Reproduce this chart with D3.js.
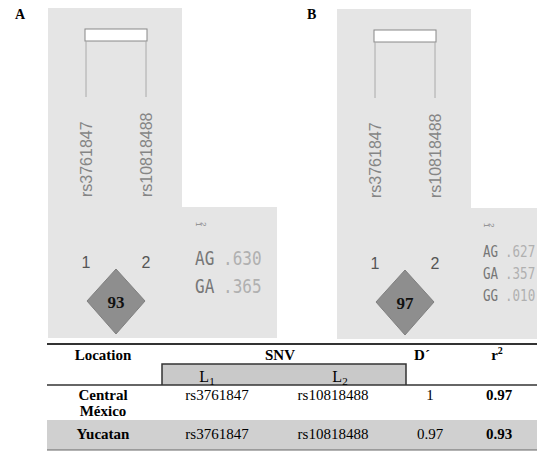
<!DOCTYPE html>
<html>
<head>
<meta charset="utf-8">
<script src="https://cdn.jsdelivr.net/npm/d3@7"></script>
<style>
  body { margin: 0; background: #fff; }
  svg { display: block; }
</style>
</head>
<body>
<svg id="chart" width="537" height="451"></svg>
<script>
// data
const panels = ['A', 'B']
const snps = ['rs3761847', 'rs10818488']
const markerNums = ['1', '2']
const ldValues = [93, 97]
const hapsA = ['AG', 'GA']
const freqsA = ['.630', '.365']
const hapsB = ['AG', 'GA', 'GG']
const freqsB = ['.627', '.357', '.010']

const tableHead = ['Location', 'SNV', 'D´', 'r']
const locations = [['Central', 'México'], ['Yucatan']]
const l1 = ['rs3761847', 'rs3761847']
const l2 = ['rs10818488', 'rs10818488']
const dPrime = ['1', '0.97']
const r2 = ['0.97', '0.93']

const svg = d3.select('#chart')

const panelCfg = [
  { ox: 48, oy: 8, hx: 147, fx: 175, hy: 257, hstep: 28, hfs: 20, sx: 0.8 },
  { ox: 337, oy: 9, hx: 146, fx: 168, hy: 248, hstep: 22, hfs: 16.5, sx: 0.76 }
]
const hapSets = [hapsA, hapsB]
const freqSets = [freqsA, freqsB]
const labelX = [15, 307]

panelCfg.forEach((p, i) => {
  svg.append('text').attr('x', labelX[i]).attr('y', 19)
    .attr('font-family', 'Liberation Serif').attr('font-weight', 'bold').attr('font-size', '14px')
    .text(panels[i])

  const g = svg.append('g').attr('transform', `translate(${p.ox}, ${p.oy})`)

  // L-shaped background
  g.append('path')
    .attr('d', 'M0,0 H134 V199 H' + (i === 0 ? 229 : 210) + ' V330 H0 Z')
    .attr('fill', '#e5e5e5')

  const x = d3.scalePoint().domain(snps).range([38, 98])

  g.append('rect').attr('x', x(snps[0]) - 1).attr('y', 21).attr('width', x(snps[1]) - x(snps[0]) + 2).attr('height', 12)
    .attr('fill', '#fff').attr('stroke', '#888').attr('stroke-width', 1)

  g.selectAll('.tick-line').data(snps).enter().append('line')
    .attr('x1', (d) => x(d)).attr('x2', (d) => x(d))
    .attr('y1', 33).attr('y2', 89)
    .attr('stroke', '#aaa')

  g.selectAll('.snp').data(snps).enter().append('text')
    .attr('transform', (d) => `translate(${x(d) + 6}, 189) rotate(-90)`)
    .attr('font-family', 'Liberation Sans, Arial').attr('font-size', '16px').attr('fill', '#858585')
    .text((d) => d)

  g.selectAll('.num').data(markerNums).enter().append('text')
    .attr('x', (d, j) => x(snps[j])).attr('y', 260)
    .attr('text-anchor', 'middle')
    .attr('font-family', 'Liberation Sans, Arial').attr('font-size', '16px').attr('fill', '#555')
    .text((d) => d)

  const cx = (x(snps[0]) + x(snps[1])) / 2
  const hw = (x(snps[1]) - x(snps[0])) / 2 - 1
  const top = 261
  g.append('path')
    .attr('d', `M${cx},${top} L${cx + hw},${top + 32} L${cx},${top + 65} L${cx - hw},${top + 32} Z`)
    .attr('fill', '#8e8e8e').attr('stroke', '#808080')
  g.append('text').attr('x', cx).attr('y', top + 39)
    .attr('text-anchor', 'middle')
    .attr('font-family', 'Liberation Serif').attr('font-weight', 'bold').attr('font-size', '17px').attr('fill', '#111')
    .text(ldValues[i])

  // haplotype block
  markerNums.forEach((m, j) => {
    g.append('text')
      .attr('transform', `translate(${p.hx + 1 + j * 5}, 214) rotate(90)`)
      .attr('font-family', 'Liberation Sans, Arial').attr('font-size', '8px').attr('fill', '#888')
      .text(m)
  })
  g.selectAll('.hap').data(hapSets[i]).enter().append('text')
    .attr('transform', (d, j) => `translate(${p.hx}, ${p.hy + j * p.hstep}) scale(${p.sx}, 1)`)
    .attr('font-family', 'DejaVu Sans Mono').attr('font-size', p.hfs + 'px').attr('fill', '#777')
    .text((d) => d)
  g.selectAll('.freq').data(freqSets[i]).enter().append('text')
    .attr('transform', (d, j) => `translate(${p.fx}, ${p.hy + j * p.hstep}) scale(${p.sx}, 1)`)
    .attr('font-family', 'DejaVu Sans Mono').attr('font-size', p.hfs + 'px').attr('fill', '#b0b0b0')
    .text((d) => d)
})

// table
const t = svg.append('g')
const serif = 'Liberation Serif, Times New Roman'
const colX = { loc: 103, l1: 217, l2: 333, d: 430, r: 499 }

t.append('rect').attr('x', 47).attr('y', 343).attr('width', 490).attr('height', 2).attr('fill', '#333')
const hx = [103, 280, 422, 497]
t.selectAll('.head').data(tableHead).enter().append('text')
  .attr('x', (d, i) => hx[i]).attr('y', 360)
  .attr('text-anchor', 'middle')
  .attr('font-family', serif).attr('font-weight', 'bold').attr('font-size', '15px')
  .text((d) => d)
  .filter((d) => d === 'r')
  .append('tspan').attr('dy', -6).attr('font-size', '10px').text('2')

t.append('rect').attr('x', 162).attr('y', 364).attr('width', 244).attr('height', 21).attr('fill', '#c9c9c9')
t.append('path').attr('d', 'M162,385 V364 H406 V385').attr('fill', 'none').attr('stroke', '#333').attr('stroke-width', 1.5)
t.append('line').attr('x1', 47).attr('x2', 537).attr('y1', 385).attr('y2', 385).attr('stroke', '#333').attr('stroke-width', 1.5)

;[['L', '1', 207], ['L', '2', 340]].forEach(([a, s, xx]) => {
  const tx = t.append('text').attr('x', xx).attr('y', 382).attr('text-anchor', 'middle')
    .attr('font-family', serif).attr('font-size', '16px').text(a)
  tx.append('tspan').attr('dy', 3).attr('font-size', '11px').text(s)
})

const rowY = d3.scaleOrdinal().domain([0, 1]).range([400, 439])
t.append('rect').attr('x', 47).attr('y', 420).attr('width', 490).attr('height', 30).attr('fill', '#d0d0d0')
t.append('line').attr('x1', 47).attr('x2', 537).attr('y1', 450).attr('y2', 450).attr('stroke', '#666').attr('stroke-width', 1)

locations.forEach((loc, i) => {
  const y = rowY(i)
  loc.forEach((w, k) => {
    t.append('text').attr('x', colX.loc).attr('y', y + k * 16).attr('text-anchor', 'middle')
      .attr('font-family', serif).attr('font-weight', 'bold').attr('font-size', '15px').text(w)
  })
  const cell = (xx, txt, bold) => t.append('text').attr('x', xx).attr('y', y).attr('text-anchor', 'middle')
    .attr('font-family', serif).attr('font-weight', bold ? 'bold' : 'normal').attr('font-size', '15px').text(txt)
  cell(colX.l1, l1[i])
  cell(colX.l2, l2[i])
  cell(colX.d, dPrime[i])
  cell(colX.r, r2[i], true)
})
</script>
</body>
</html>
